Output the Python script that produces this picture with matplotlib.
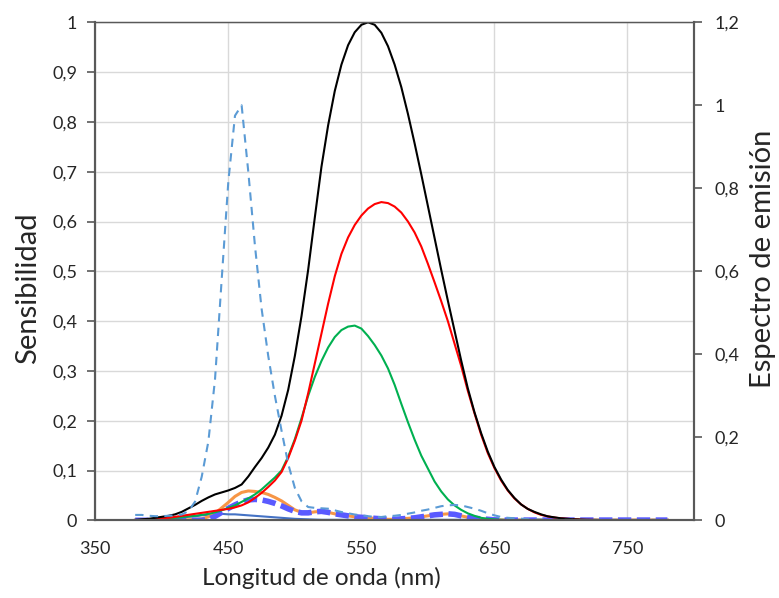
import matplotlib

matplotlib.use("Agg")
import matplotlib.pyplot as plt
import numpy as np
from matplotlib.ticker import FixedLocator, FuncFormatter

OUTPUT_PATH = "out.png"

# wavelength grid of the measured series (nm), 380..780 every 5 nm
wavelengths = np.arange(380, 785, 5)

# sensitivity curves (left axis)
sens_black = [
    0.001, 0.002, 0.003, 0.005, 0.007, 0.009, 0.012, 0.017,
    0.024, 0.031, 0.039, 0.046, 0.052, 0.056, 0.060, 0.065,
    0.072, 0.088, 0.107, 0.125, 0.146, 0.172, 0.210, 0.262,
    0.330, 0.410, 0.503, 0.608, 0.710, 0.793, 0.862, 0.915,
    0.954, 0.980, 0.995, 1.000, 0.995, 0.979, 0.952, 0.915,
    0.870, 0.816, 0.757, 0.695, 0.631, 0.567, 0.503, 0.441,
    0.381, 0.321, 0.265, 0.217, 0.175, 0.138, 0.107, 0.082,
    0.061, 0.045, 0.032, 0.023, 0.017, 0.012, 0.008, 0.006,
    0.004, 0.003, 0.002, 0.0015, 0.001, 0.0007, 0.0005, 0.0004,
    0.0003, 0.0002, 0.0001, 0.0001, 0.0001, 0.0, 0.0, 0.0,
    0.0,
]
sens_red = [
    0.000, 0.001, 0.002, 0.003, 0.004, 0.005, 0.007, 0.009,
    0.011, 0.013, 0.015, 0.017, 0.019, 0.021, 0.023, 0.026,
    0.030, 0.036, 0.045, 0.055, 0.067, 0.080, 0.097, 0.125,
    0.160, 0.200, 0.255, 0.315, 0.375, 0.435, 0.490, 0.535,
    0.568, 0.593, 0.612, 0.626, 0.635, 0.639, 0.637, 0.630,
    0.618, 0.600, 0.578, 0.550, 0.515, 0.478, 0.440, 0.400,
    0.355, 0.310, 0.260, 0.215, 0.172, 0.135, 0.105, 0.080,
    0.060, 0.044, 0.032, 0.023, 0.016, 0.011, 0.008, 0.0055,
    0.004, 0.003, 0.002, 0.0015, 0.001, 0.0007, 0.0005, 0.0004,
    0.0003, 0.0002, 0.0001, 0.0001, 0.0001, 0.0, 0.0, 0.0,
    0.0,
]
sens_green = [
    0.000, 0.001, 0.001, 0.002, 0.003, 0.004, 0.005, 0.006,
    0.008, 0.009, 0.011, 0.013, 0.016, 0.020, 0.025, 0.030,
    0.037, 0.044, 0.052, 0.062, 0.074, 0.086, 0.100, 0.128,
    0.163, 0.205, 0.250, 0.288, 0.320, 0.347, 0.368, 0.382,
    0.389, 0.391, 0.385, 0.370, 0.352, 0.331, 0.305, 0.272,
    0.234, 0.197, 0.162, 0.130, 0.104, 0.078, 0.058, 0.042,
    0.030, 0.021, 0.014, 0.009, 0.005, 0.003, 0.002, 0.001,
    0.0005, 0.0, 0.0, 0.0, 0.0, 0.0, 0.0, 0.0,
    0.0, 0.0, 0.0, 0.0, 0.0, 0.0, 0.0, 0.0,
    0.0, 0.0, 0.0, 0.0, 0.0, 0.0, 0.0, 0.0,
    0.0,
]
sens_orange = [
    0.000, 0.000, 0.000, 0.000, 0.0005, 0.0005, 0.001, 0.001,
    0.001, 0.002, 0.003, 0.007, 0.014, 0.025, 0.036, 0.048,
    0.056, 0.059, 0.058, 0.056, 0.052, 0.046, 0.039, 0.030,
    0.021, 0.016, 0.015, 0.017, 0.018, 0.016, 0.013, 0.011,
    0.009, 0.007, 0.006, 0.005, 0.004, 0.003, 0.002, 0.002,
    0.003, 0.004, 0.005, 0.007, 0.009, 0.011, 0.012, 0.013,
    0.012, 0.009, 0.006, 0.004, 0.003, 0.002, 0.001, 0.0005,
    0.0005, 0.0005, 0.0005, 0.0005, 0.0005, 0.0005, 0.0005, 0.0005,
    0.0005, 0.0005, 0.0005, 0.0005, 0.0005, 0.0005, 0.0005, 0.0005,
    0.0005, 0.0005, 0.0005, 0.0005, 0.0005, 0.0005, 0.0005, 0.0005,
    0.0005,
]
sens_violet = [
    0.000, 0.000, 0.000, 0.000, 0.000, 0.000, 0.000, 0.000,
    0.000, 0.000, 0.000, 0.002, 0.008, 0.016, 0.024, 0.031,
    0.037, 0.041, 0.042, 0.041, 0.038, 0.034, 0.029, 0.023,
    0.018, 0.015, 0.015, 0.017, 0.018, 0.016, 0.013, 0.011,
    0.009, 0.007, 0.006, 0.005, 0.004, 0.003, 0.002, 0.002,
    0.003, 0.004, 0.005, 0.007, 0.009, 0.011, 0.012, 0.013,
    0.012, 0.009, 0.006, 0.004, 0.003, 0.002, 0.001, 0.0005,
    0.0005, 0.0005, 0.0005, 0.0005, 0.0005, 0.0005, 0.0005, 0.0005,
    0.0005, 0.0005, 0.0005, 0.0005, 0.0005, 0.0005, 0.0005, 0.0005,
    0.0005, 0.0005, 0.0005, 0.0005, 0.0005, 0.0005, 0.0005, 0.0005,
    0.0005,
]
sens_steel = [
    0.000, 0.0005, 0.001, 0.0015, 0.002, 0.003, 0.004, 0.005,
    0.007, 0.008, 0.010, 0.011, 0.012, 0.013, 0.012, 0.012,
    0.011, 0.010, 0.009, 0.008, 0.007, 0.006, 0.005, 0.004,
    0.003, 0.0025, 0.002, 0.0015, 0.001, 0.001, 0.001, 0.001,
    0.001, 0.001, 0.001, 0.001, 0.001, 0.001, 0.001, 0.001,
    0.001, 0.001, 0.001, 0.001, 0.001, 0.001, 0.001, 0.001,
    0.001, 0.001, 0.001, 0.001, 0.001, 0.001, 0.001, 0.001,
    0.001, 0.001, 0.001, 0.001, 0.001, 0.001, 0.001, 0.001,
    0.001, 0.001, 0.001, 0.001, 0.001, 0.001, 0.001, 0.001,
    0.001, 0.001, 0.001, 0.001, 0.001, 0.001, 0.001, 0.001,
    0.001,
]

# emission spectrum (right axis, normalised to 1)
emission = [
    0.013, 0.013, 0.011, 0.010, 0.010, 0.011, 0.012, 0.014,
    0.022, 0.045, 0.105, 0.190, 0.340, 0.580, 0.816, 0.975,
    1.000, 0.840, 0.662, 0.510, 0.396, 0.300, 0.216, 0.136,
    0.078, 0.046, 0.032, 0.030, 0.029, 0.028, 0.024, 0.020,
    0.017, 0.014, 0.012, 0.010, 0.008, 0.008, 0.010, 0.011,
    0.013, 0.016, 0.019, 0.023, 0.026, 0.030, 0.034, 0.036,
    0.037, 0.036, 0.032, 0.028, 0.023, 0.017, 0.012, 0.008,
    0.006, 0.005, 0.004, 0.003, 0.002, 0.002, 0.001, 0.001,
    0.001, 0.001, 0.001, 0.001, 0.001, 0.001, 0.001, 0.001,
    0.001, 0.001, 0.001, 0.001, 0.001, 0.001, 0.001, 0.001,
    0.001,
]

x_ticks = [350, 450, 550, 650, 750]
left_ticks = [0.0, 0.1, 0.2, 0.3, 0.4, 0.5, 0.6, 0.7, 0.8, 0.9, 1.0]
right_ticks = [0.0, 0.2, 0.4, 0.6, 0.8, 1.0, 1.2]

FONT = "Lato"
TEXT_COLOR = "#262626"
AXIS_GREY = "#595959"
GRID_GREY = "#d9d9d9"


def comma_label(value: float, _pos: int) -> str:
    return f"{value:g}".replace(".", ",")


def style_axis_box(ax: plt.Axes) -> None:
    for side in ("left", "right", "bottom", "top"):
        ax.spines[side].set_color(AXIS_GREY)
    ax.spines["left"].set_linewidth(1.5)
    ax.spines["right"].set_linewidth(1.5)
    ax.spines["bottom"].set_linewidth(1.5)
    ax.spines["top"].set_linewidth(0.9)


def main() -> None:
    plt.rcParams["font.family"] = [FONT, "DejaVu Sans"]

    fig = plt.figure(figsize=(7.79, 5.98), dpi=100)
    ax = fig.add_axes([0.1223, 0.1299, 0.7686, 0.8328])

    ax.set_xlim(350, 800)
    ax.set_ylim(0, 1)
    ax.xaxis.set_major_locator(FixedLocator(x_ticks))
    ax.yaxis.set_major_locator(FixedLocator(left_ticks))
    ax.yaxis.set_major_formatter(FuncFormatter(comma_label))
    ax.grid(True, color=GRID_GREY, linewidth=1.0)
    ax.set_axisbelow(True)
    ax.tick_params(axis="x", length=0, pad=15, labelsize=13, colors=TEXT_COLOR)
    ax.tick_params(axis="y", length=6, width=1.2, pad=7, labelsize=13,
                   color=AXIS_GREY, labelcolor=TEXT_COLOR)
    style_axis_box(ax)

    ax.plot(wavelengths, sens_steel, color="#4472c4", linewidth=1.5)
    ax.plot(wavelengths, sens_orange, color="#f79646", linewidth=2.2)
    ax.plot(wavelengths, sens_violet, color="#5a5aff", linewidth=4.0,
            linestyle=(0, (2.4, 1.0)), dash_capstyle="butt")
    ax.plot(wavelengths, sens_green, color="#00b050", linewidth=1.5)
    ax.plot(wavelengths, sens_red, color="#ff0000", linewidth=1.5)
    ax.plot(wavelengths, sens_black, color="black", linewidth=1.5)

    ax2 = ax.twinx()
    ax2.set_ylim(0, 1.2)
    ax2.yaxis.set_major_locator(FixedLocator(right_ticks))
    ax2.yaxis.set_major_formatter(FuncFormatter(comma_label))
    ax2.tick_params(axis="y", length=6, width=1.2, pad=9, labelsize=13,
                    color=AXIS_GREY, labelcolor=TEXT_COLOR)
    style_axis_box(ax2)
    ax2.plot(wavelengths, emission, color="#5b9bd5", linewidth=1.5,
             linestyle=(0, (4, 3)))

    ax.set_xlabel("Longitud de onda (nm)", fontsize=17.5, color=TEXT_COLOR,
                  va="center")
    ax.xaxis.set_label_coords(0.377, -0.116)
    ax.set_ylabel("Sensibilidad", fontsize=21, color=TEXT_COLOR, va="center")
    ax.yaxis.set_label_coords(-0.112, 0.466)
    ax2.set_ylabel("Espectro de emisión", fontsize=21, color=TEXT_COLOR,
                   va="center")
    ax2.yaxis.set_label_coords(1.115, 0.525)

    fig.savefig(OUTPUT_PATH, dpi=100)
    plt.close(fig)


if __name__ == "__main__":
    main()
